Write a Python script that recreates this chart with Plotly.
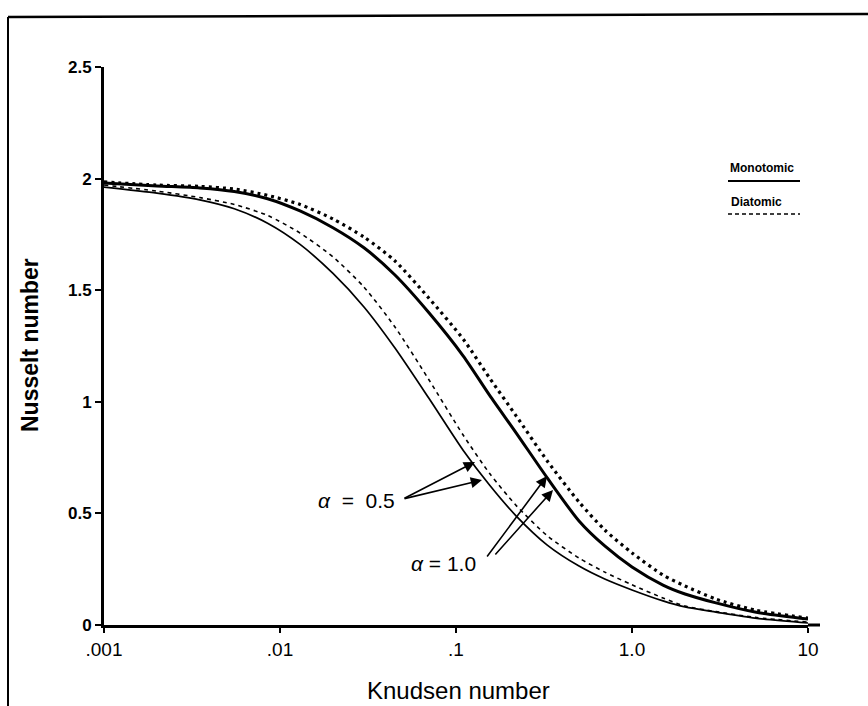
import plotly.graph_objects as go

# Data
knudsen = [0.001, 0.002, 0.0035, 0.0055, 0.0085, 0.013, 0.02, 0.03, 0.045, 0.07, 0.11,
           0.155, 0.22, 0.33, 0.5, 0.7, 1.0, 1.5, 2.0, 3.0, 5.0, 10.0]
mono_a05 = [1.962, 1.935, 1.905, 1.865, 1.80, 1.705, 1.575, 1.425, 1.241, 1.017, 0.782,
            0.627, 0.488, 0.358, 0.264, 0.206, 0.157, 0.108, 0.081, 0.058, 0.031, 0.009]
dia_a05 = [1.971, 1.944, 1.915, 1.884, 1.835, 1.756, 1.649, 1.514, 1.335, 1.10, 0.85,
           0.68, 0.535, 0.40, 0.30, 0.237, 0.18, 0.121, 0.085, 0.06, 0.034, 0.013]
mono_a10 = [1.98, 1.967, 1.958, 1.942, 1.91, 1.855, 1.78, 1.69, 1.568, 1.40, 1.205,
            1.03, 0.86, 0.659, 0.466, 0.354, 0.26, 0.179, 0.139, 0.099, 0.058, 0.027]
dia_a10 = [1.985, 1.971, 1.965, 1.953, 1.925, 1.884, 1.819, 1.738, 1.631, 1.465, 1.28,
           1.107, 0.936, 0.735, 0.551, 0.426, 0.323, 0.224, 0.175, 0.116, 0.067, 0.031]

x_tickvals = [0.001, 0.01, 0.1, 1, 10]
x_ticktext = [".001", ".01", ".1", "1.0", "10"]
y_tickvals = [0, 0.5, 1, 1.5, 2, 2.5]
y_ticktext = ["0", "0.5", "1", "1.5", "2", "2.5"]

W, H = 868, 706
L, R, T, B = 104, 808, 67, 625


def px_x(px):
    return (px - L) / (R - L)


def px_y(py):
    return (B - py) / (B - T)


fig = go.Figure()
fig.add_trace(go.Scatter(x=knudsen, y=mono_a05, mode="lines",
                         line=dict(color="black", width=1.7, shape="spline", smoothing=0.7), showlegend=False))
fig.add_trace(go.Scatter(x=knudsen, y=dia_a05, mode="lines",
                         line=dict(color="black", width=1.6, dash="4px,4px", shape="spline", smoothing=0.7), showlegend=False))
fig.add_trace(go.Scatter(x=knudsen, y=mono_a10, mode="lines",
                         line=dict(color="black", width=3, shape="spline", smoothing=0.7), showlegend=False))
fig.add_trace(go.Scatter(x=knudsen, y=dia_a10, mode="lines",
                         line=dict(color="black", width=3.2, dash="3px,4px", shape="spline", smoothing=0.7), showlegend=False))

font = "Liberation Sans, Arial, Helvetica, sans-serif"

fig.update_layout(
    width=W, height=H,
    margin=dict(l=L, r=W - R, t=T, b=H - B),
    paper_bgcolor="white", plot_bgcolor="white",
    font=dict(family=font, color="black", size=15),
    xaxis=dict(type="log", range=[-3, 1], tickvals=x_tickvals, ticktext=x_ticktext,
               showgrid=False, zeroline=False, showline=True, linewidth=3, linecolor="black",
               ticks="outside", ticklen=5, tickwidth=1.5, tickcolor="black",
               tickfont=dict(size=19, family=font)),
    yaxis=dict(range=[0, 2.5], tickvals=y_tickvals, ticktext=["<b>%s</b>" % t for t in y_ticktext],
               showgrid=False, zeroline=False, showline=True, linewidth=3, linecolor="black",
               ticks="outside", ticklen=6, tickwidth=1.5, tickcolor="black",
               tickfont=dict(size=17, family=font)),
)

# axis titles
fig.add_annotation(xref="paper", yref="paper", x=px_x(458), y=px_y(690), text="Knudsen number",
                   showarrow=False, xanchor="center", yanchor="middle", font=dict(size=24, family=font))
fig.add_annotation(xref="paper", yref="paper", x=px_x(30), y=px_y(345), text="<b>Nusselt number</b>",
                   showarrow=False, textangle=-90, xanchor="center", yanchor="middle",
                   font=dict(size=23, family=font))

# x axis line extends a little beyond 10
fig.add_shape(type="line", xref="paper", yref="paper", x0=1, x1=px_x(820), y0=0, y1=0,
              line=dict(color="black", width=3))

# frame of the scanned page
fig.add_shape(type="line", xref="paper", yref="paper", x0=px_x(8), x1=px_x(8), y0=px_y(17), y1=px_y(706),
              line=dict(color="black", width=2))
fig.add_shape(type="line", xref="paper", yref="paper", x0=px_x(8), x1=px_x(868), y0=px_y(17), y1=px_y(14),
              line=dict(color="black", width=2.5))

# legend
fig.add_annotation(xref="paper", yref="paper", x=px_x(728), y=px_y(168), text="<b>Monotomic</b>",
                   showarrow=False, xanchor="left", yanchor="middle", font=dict(size=12, family=font))
fig.add_shape(type="line", xref="paper", yref="paper", x0=px_x(728), x1=px_x(800), y0=px_y(181), y1=px_y(181),
              line=dict(color="black", width=1.8))
fig.add_annotation(xref="paper", yref="paper", x=px_x(729), y=px_y(202), text="<b>Diatomic</b>",
                   showarrow=False, xanchor="left", yanchor="middle", font=dict(size=12, family=font))
fig.add_shape(type="line", xref="paper", yref="paper", x0=px_x(728), x1=px_x(800), y0=px_y(214), y1=px_y(214),
              line=dict(color="black", width=1.6, dash="4px,3px"))

# alpha labels and arrows
fig.add_annotation(xref="paper", yref="paper", x=px_x(356), y=px_y(500), text="<i>α</i>&nbsp; =&nbsp; 0.5",
                   showarrow=False, xanchor="center", yanchor="middle", font=dict(size=21, family=font))
fig.add_annotation(xref="paper", yref="paper", x=px_x(443), y=px_y(563), text="<i>α</i> = 1.0",
                   showarrow=False, xanchor="center", yanchor="middle", font=dict(size=21, family=font))

arrows = [((475, 462), (403, 499)), ((482, 480), (403, 499)),
          ((547, 476), (486, 558)), ((553, 490), (494, 556))]
for (tx, ty), (sx, sy) in arrows:
    fig.add_annotation(xref="paper", yref="paper", x=px_x(tx), y=px_y(ty), ax=sx - tx, ay=sy - ty,
                       text="", showarrow=True, arrowhead=2, arrowsize=1.4, arrowwidth=1.6,
                       arrowcolor="black", standoff=0)

fig.write_html("out.html")
